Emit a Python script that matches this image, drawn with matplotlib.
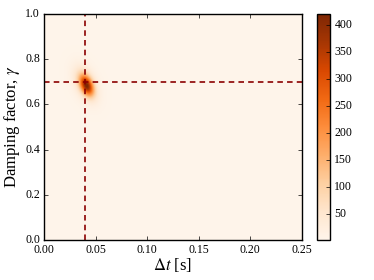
import numpy as np
import matplotlib
matplotlib.use("Agg")
from matplotlib import pyplot as plt

plt.style.use("classic")
plt.rcParams["font.family"] = "serif"
plt.rcParams["font.serif"] = ["Liberation Serif", "DejaVu Serif"]
plt.rcParams["mathtext.fontset"] = "stix"

# true values (dashed lines)
dt_true = 0.04
gamma_true = 0.7

# posterior blob: a dark core and a softer halo
core_dt, core_gamma = 0.0412, 0.684
core_sig_dt, core_sig_gamma = 0.0045, 0.030
core_amp = 330.0
halo_dt, halo_gamma = 0.0400, 0.692
halo_sig_dt, halo_sig_gamma = 0.0075, 0.050
halo_amp = 95.0
rho = -0.4
floor_value = 3.0

dt_grid = np.linspace(0.0, 0.25, 500)
gamma_grid = np.linspace(0.0, 1.0, 500)
cbar_ticks = [50, 100, 150, 200, 250, 300, 350, 400]


def blob(X, Y, mx, my, sx, sy, amp):
    u = (X - mx) / sx
    v = (Y - my) / sy
    q = (u**2 - 2*rho*u*v + v**2) / (1 - rho**2)
    return amp * np.exp(-0.5*q)


X, Y = np.meshgrid(dt_grid, gamma_grid)
Z = (floor_value
     + blob(X, Y, core_dt, core_gamma, core_sig_dt, core_sig_gamma, core_amp)
     + blob(X, Y, halo_dt, halo_gamma, halo_sig_dt, halo_sig_gamma, halo_amp))

fig = plt.figure(figsize=(3.74, 2.80), dpi=100)
ax = fig.add_axes([0.118, 0.143, 0.689, 0.807])
cax = fig.add_axes([0.848, 0.143, 0.035, 0.807])

im = ax.imshow(Z, origin="lower", extent=[0, 0.25, 0, 1], aspect="auto",
               cmap="Oranges", vmin=0, vmax=420, interpolation="bilinear")
ax.axvline(dt_true, color="#8b0000", ls="--", lw=1.2, dashes=(4, 3))
ax.axhline(gamma_true, color="#8b0000", ls="--", lw=1.2, dashes=(4, 3))

ax.set_xlim(0, 0.25)
ax.set_ylim(0, 1)
ax.set_xticks([0, 0.05, 0.10, 0.15, 0.20, 0.25])
ax.set_yticks([0, 0.2, 0.4, 0.6, 0.8, 1.0])
ax.tick_params(labelsize=8.5, length=3, pad=3)
ax.set_xlabel(r"$\Delta t$ [s]", fontsize=12, labelpad=0)
ax.set_ylabel(r"Damping factor, $\gamma$", fontsize=12, labelpad=2)

cb = fig.colorbar(im, cax=cax, ticks=cbar_ticks)
cb.ax.tick_params(labelsize=8.5, length=3, pad=3)
cb.ax.set_ylim(1, 420)

fig.savefig("out.png", dpi=100)
